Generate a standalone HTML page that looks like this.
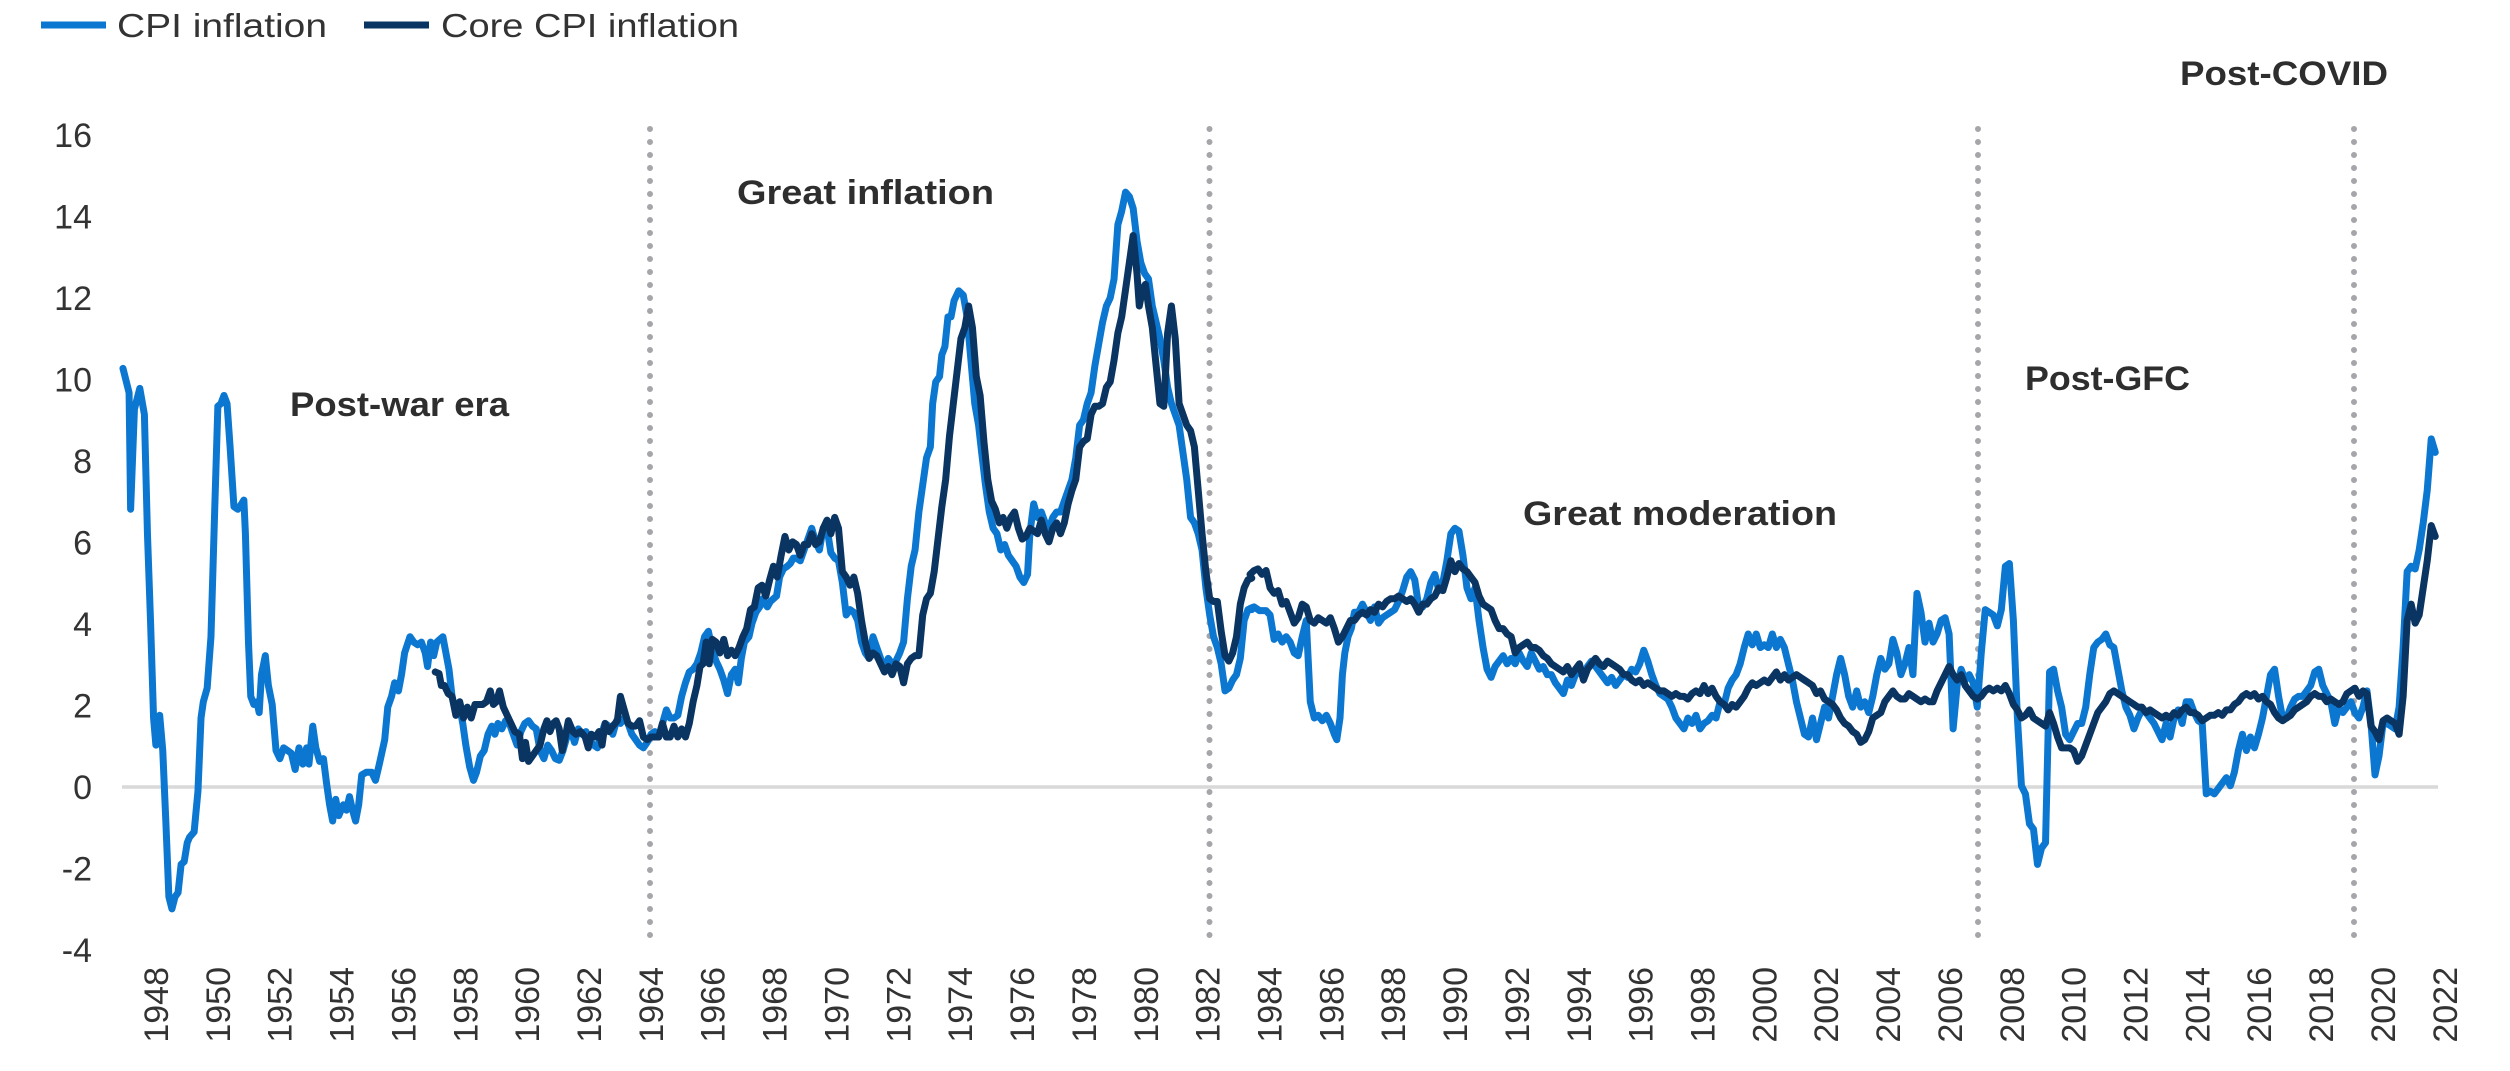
<!DOCTYPE html>
<html><head><meta charset="utf-8"><style>
html,body{margin:0;padding:0;background:#fff;}
svg{display:block;}
text{font-family:"Liberation Sans",sans-serif;fill:#333;}
.ax{font-size:34px;}
.ann{font-size:34px;font-weight:bold;fill:#2e2e2e;}
</style></head><body>
<svg width="2510" height="1071" viewBox="0 0 2510 1071" xmlns="http://www.w3.org/2000/svg">
<rect width="2510" height="1071" fill="#fff"/>
<!-- legend -->
<line x1="41" y1="25" x2="106" y2="25" stroke="#0c77d0" stroke-width="7"/>
<text x="117" y="37" font-size="33" textLength="210" lengthAdjust="spacingAndGlyphs">CPI inflation</text>
<line x1="364" y1="25" x2="429" y2="25" stroke="#0a3461" stroke-width="7"/>
<text x="441" y="37" font-size="33" textLength="298" lengthAdjust="spacingAndGlyphs">Core CPI inflation</text>

<!-- y labels -->
<g class="ax" text-anchor="end">
<text x="92" y="147">16</text>
<text x="92" y="228.5">14</text>
<text x="92" y="310">12</text>
<text x="92" y="391.5">10</text>
<text x="92" y="473">8</text>
<text x="92" y="554.5">6</text>
<text x="92" y="636">4</text>
<text x="92" y="717.5">2</text>
<text x="92" y="799">0</text>
<text x="92" y="880.5">-2</text>
<text x="92" y="962">-4</text>
</g>

<!-- zero line -->
<line x1="122" y1="787" x2="2438" y2="787" stroke="#d9d9d9" stroke-width="3.5"/>

<!-- dotted period lines -->
<g stroke="#a6a6aa" stroke-width="6" stroke-linecap="round" stroke-dasharray="0 13">
<line x1="650" y1="129" x2="650" y2="948"/>
<line x1="1209.5" y1="129" x2="1209.5" y2="948"/>
<line x1="1978" y1="129" x2="1978" y2="948"/>
<line x1="2354" y1="129" x2="2354" y2="948"/>
</g>

<!-- annotations -->
<text class="ann" x="290" y="416" textLength="219" lengthAdjust="spacingAndGlyphs">Post-war era</text>
<text class="ann" x="737" y="204" textLength="257" lengthAdjust="spacingAndGlyphs">Great inflation</text>
<text class="ann" x="1523" y="525" textLength="314" lengthAdjust="spacingAndGlyphs">Great moderation</text>
<text class="ann" x="2025" y="390" textLength="165" lengthAdjust="spacingAndGlyphs">Post-GFC</text>
<text class="ann" x="2180" y="85" textLength="208" lengthAdjust="spacingAndGlyphs">Post-COVID</text>

<!-- series left half -->
<g class="ser" transform="translate(100,100) scale(0.76531,0.54212)" fill="none" stroke-linejoin="round" stroke-linecap="round">
<polyline vector-effect="non-scaling-stroke" stroke="#0c77d0" stroke-width="7" points="30,495 38,540 40,755 45,570 52,532 58,580 62,800 66,960 70,1140 73,1190 78,1135 82,1200 86,1330 90,1470 94,1492 98,1470 102,1462 106,1410 110,1405 114,1370 117,1360 123,1350 128,1275 132,1140 135,1110 140,1085 145,990 150,750 154,565 158,560 162,545 166,560 170,640 175,750 180,755 185,745 188,738 190,800 194,1000 197,1100 201,1115 205,1110 208,1130 211,1060 216,1025 220,1080 225,1115 230,1200 235,1215 240,1195 245,1200 250,1205 255,1235 260,1195 265,1225 270,1195 273,1225 278,1155 282,1195 287,1220 292,1215 296,1260 300,1300 304,1330 308,1290 312,1320 318,1300 322,1310 326,1285 330,1310 334,1330 338,1300 342,1245 348,1240 355,1240 360,1255 365,1225 372,1180 376,1120 381,1100 385,1075 390,1090 394,1060 398,1020 405,990 410,1000 415,1005 420,1000 425,1020 428,1045 432,1000 436,1025 440,1000 444,995 448,990 452,1020 456,1050 460,1100 465,1130 470,1120 474,1150 478,1190 483,1230 488,1255 492,1240 497,1210 502,1200 507,1170 512,1155 516,1170 520,1150 525,1160 530,1145 535,1150 540,1170 545,1190 550,1165 555,1150 560,1145 565,1155 570,1160 575,1200 580,1215 585,1190 590,1200 595,1215 600,1218 605,1200 610,1175 615,1160 620,1185 625,1160 630,1170 635,1165 640,1180 645,1190 650,1195 655,1170 660,1150 665,1155 670,1170 675,1145 680,1150 685,1140 690,1150 695,1170 700,1180 705,1190 710,1195 715,1185 720,1170 725,1165 730,1175 735,1150 740,1125 745,1140 750,1140 755,1135 760,1100 765,1075 770,1055 775,1050 780,1040 785,1020 790,990 795,980 800,1015 805,1035 810,1050 815,1070 820,1095 825,1060 830,1050 834,1075 838,1030 842,1000 848,990 852,965 857,945 862,935 866,920 872,935 876,925 880,920 884,915 888,880 893,865 898,860 902,855 906,845 910,845 915,850 920,830 925,810 930,790 935,815 940,830 945,790 950,790 955,835 960,845 965,850 970,890 975,950 980,940 985,945 990,960 995,1000 1000,1020 1005,1030 1010,990 1015,1010 1020,1030 1025,1050 1030,1030 1035,1040 1040,1035 1045,1020 1050,1000 1055,920 1060,860 1065,830 1070,760 1075,710 1080,660 1085,640 1088,560 1092,520 1097,510 1100,470 1104,455 1108,400 1112,400 1116,370 1122,352 1128,360 1133,400 1138,480 1143,560 1148,600 1152,650 1157,710 1162,760 1167,790 1172,800 1177,830 1182,820 1187,840 1192,850 1197,860 1202,880 1207,890 1212,875 1215,800 1220,745 1225,770 1230,760 1235,780 1240,790 1245,770 1250,760 1255,760 1260,740 1265,720 1270,700 1275,660 1280,600 1285,590 1290,560 1295,540 1300,490 1305,450 1310,410 1315,380 1320,365 1325,330 1330,230 1335,205 1340,170 1345,178 1350,200 1355,260 1360,300 1365,320 1370,330 1375,380 1380,410 1385,440 1390,480 1395,530 1400,560 1405,580 1410,600 1415,650 1420,700 1425,770 1430,780 1435,800 1440,830 1445,900 1450,950 1455,990 1460,1010 1465,1040 1470,1090 1475,1085 1480,1070 1485,1060 1490,1030 1495,960 1500,940 1505,940"/>
<polyline vector-effect="non-scaling-stroke" stroke="#0a3461" stroke-width="7" points="438,1055 443,1058 446,1080 450,1080 455,1095 460,1100 465,1135 470,1110 475,1140 480,1120 485,1140 490,1115 495,1115 500,1115 505,1110 510,1090 514,1115 518,1110 522,1090 527,1120 532,1135 537,1150 542,1165 548,1170 552,1215 556,1185 560,1220 565,1210 570,1200 575,1190 580,1160 584,1145 588,1165 592,1150 596,1145 600,1160 604,1200 608,1175 612,1145 618,1165 622,1170 628,1165 634,1175 638,1195 642,1170 648,1175 652,1165 656,1190 660,1150 665,1165 670,1155 676,1145 680,1100 685,1125 690,1150 695,1155 700,1155 705,1145 710,1175 715,1180 720,1175 725,1175 730,1175 735,1150 740,1175 745,1175 750,1155 755,1175 760,1160 765,1175 770,1150 775,1110 780,1080 784,1045 788,1040 792,1000 796,1040 800,995 805,1000 810,1020 815,995 820,1025 825,1015 830,1025 835,1010 840,990 845,975 850,940 855,935 860,900 865,895 870,915 875,885 880,860 885,880 890,840 895,805 900,830 905,815 910,820 915,840 920,820 925,820 930,800 935,820 940,815 945,790 950,775 955,800 960,770 965,790 970,870 975,880 980,895 985,880 990,910 995,960 1000,1000 1005,1030 1010,1020 1015,1025 1020,1040 1025,1055 1030,1045 1035,1060 1040,1040 1045,1045 1050,1075 1055,1040 1060,1030 1065,1025 1070,1025 1075,950 1080,920 1085,910 1090,870 1095,810 1100,750 1105,700 1110,620 1115,560 1120,500 1125,440 1130,420 1135,380 1140,420 1145,510 1150,545 1155,630 1160,700 1165,740 1170,755 1175,780 1180,770 1185,790 1190,770 1195,760 1200,790 1205,810 1210,805 1215,790 1220,795 1225,800 1230,775 1235,800 1240,815 1245,790 1250,780 1255,800 1260,780 1265,745 1270,720 1275,700 1280,640 1285,630 1290,625 1295,580 1300,565 1305,565 1310,560 1315,530 1320,520 1325,480 1330,430 1335,400 1340,350 1345,300 1350,250 1355,320 1358,380 1362,350 1366,340 1370,380 1375,420 1380,490 1385,560 1390,565 1395,430 1400,380 1405,440 1410,560 1415,580 1420,600 1425,610 1430,640 1435,720 1440,800 1445,870 1450,920 1455,925 1460,925 1465,980 1470,1025 1475,1035 1480,1020 1485,990 1490,930 1495,900 1500,885 1505,882"/>
</g>

<!-- series right half -->
<g class="ser" transform="translate(1250,100) scale(0.80357,0.54212)" fill="none" stroke-linejoin="round" stroke-linecap="round">
<polyline vector-effect="non-scaling-stroke" stroke="#0c77d0" stroke-width="7" points="0,938 5,935 12,942 20,942 25,950 30,995 35,985 40,1000 45,990 50,1000 55,1020 60,1025 65,990 70,960 73,1050 75,1110 80,1140 85,1135 90,1145 95,1135 100,1150 105,1170 108,1180 112,1140 115,1060 118,1020 122,990 126,975 130,945 135,945 140,930 145,945 150,960 155,935 160,965 165,955 170,950 175,945 180,940 185,925 190,905 195,880 200,870 205,885 210,935 215,935 220,920 225,890 230,875 235,905 240,890 245,850 250,800 255,790 260,795 265,840 270,900 275,920 280,900 285,960 290,1010 295,1050 300,1065 305,1045 310,1035 315,1025 320,1040 325,1030 330,1040 335,1020 340,1035 345,1045 350,1020 355,1035 360,1050 365,1045 370,1060 375,1060 380,1075 385,1085 390,1095 395,1070 400,1080 405,1060 410,1055 415,1065 420,1045 425,1035 430,1045 435,1055 440,1065 445,1075 450,1065 455,1080 460,1070 465,1060 470,1065 475,1050 480,1055 485,1040 490,1015 495,1035 500,1060 505,1080 510,1095 515,1100 520,1105 525,1120 530,1140 535,1150 540,1160 545,1140 550,1150 555,1135 560,1160 565,1150 570,1145 575,1135 580,1140 585,1110 590,1115 595,1085 600,1070 605,1060 610,1040 615,1010 620,985 625,1005 630,985 635,1010 640,1005 645,1010 650,985 655,1010 660,995 665,1010 670,1040 675,1070 680,1110 685,1140 690,1170 695,1175 700,1140 705,1180 710,1150 715,1120 720,1140 725,1100 730,1060 735,1030 740,1060 745,1100 750,1120 755,1090 760,1120 765,1110 770,1130 775,1100 780,1060 785,1030 790,1050 795,1040 800,995 805,1020 810,1060 815,1040 820,1010 825,1060 830,910 835,945 840,1000 845,965 850,1000 855,985 860,960 865,955 870,985 875,1160 880,1080 885,1050 890,1070 895,1060 900,1075 905,1120 910,1020 915,940 920,945 925,950 930,970 935,940 940,860 945,855 950,960 955,1140 960,1265 965,1280 970,1335 975,1345 980,1410 985,1380 990,1370 995,1055 1000,1050 1005,1090 1010,1120 1015,1170 1020,1180 1025,1165 1030,1150 1035,1150 1040,1120 1045,1060 1050,1010 1055,1000 1060,995 1065,985 1070,1005 1075,1010 1080,1050 1085,1090 1090,1120 1095,1135 1100,1160 1105,1140 1110,1125 1115,1130 1120,1140 1125,1150 1130,1165 1135,1180 1140,1150 1145,1175 1150,1140 1155,1125 1160,1150 1165,1110 1170,1110 1175,1130 1180,1145 1185,1150 1190,1280 1195,1275 1200,1280 1205,1270 1210,1260 1215,1250 1220,1265 1225,1240 1230,1200 1235,1170 1240,1200 1245,1175 1250,1195 1255,1170 1260,1140 1265,1100 1270,1060 1275,1050 1280,1100 1285,1140 1290,1140 1295,1120 1300,1105 1305,1100 1310,1100 1315,1090 1320,1080 1325,1055 1330,1050 1335,1080 1340,1095 1345,1110 1350,1150 1355,1120 1360,1130 1365,1120 1370,1110 1375,1130 1380,1140 1385,1120 1390,1090 1395,1150 1400,1245 1405,1210 1410,1150 1415,1150 1420,1155 1425,1160 1430,1120 1435,1010 1440,870 1445,860 1450,865 1455,830 1460,780 1465,720 1470,625 1475,650"/>
<polyline vector-effect="non-scaling-stroke" stroke="#0a3461" stroke-width="7" points="0,875 5,868 10,865 15,875 20,868 25,900 30,910 35,905 40,930 45,925 50,945 55,965 60,955 65,930 70,935 75,960 80,965 85,955 90,960 95,965 100,955 105,975 110,1000 115,990 120,975 125,960 130,960 135,950 140,945 145,950 150,940 155,945 160,930 165,935 170,925 175,920 180,920 185,915 190,920 195,925 200,920 205,930 210,945 215,930 220,930 225,920 230,915 235,900 240,905 245,880 250,850 255,870 260,855 265,865 270,870 275,880 280,890 285,915 290,930 295,935 300,940 305,960 310,975 315,975 320,985 325,990 330,1020 335,1010 340,1005 345,1000 350,1010 355,1010 360,1015 365,1025 370,1030 375,1040 380,1045 385,1050 390,1055 395,1045 400,1060 405,1050 410,1040 415,1070 420,1050 425,1040 430,1030 435,1040 440,1045 445,1035 450,1040 455,1045 460,1050 465,1060 470,1060 475,1070 480,1075 485,1070 490,1080 495,1075 500,1080 505,1085 510,1090 515,1090 520,1095 525,1100 530,1095 535,1100 540,1100 545,1105 550,1095 555,1090 560,1095 565,1080 570,1095 575,1085 580,1100 585,1110 590,1115 595,1125 600,1115 605,1120 610,1110 615,1100 620,1085 625,1075 630,1080 635,1075 640,1070 645,1075 650,1065 655,1055 660,1070 665,1060 670,1070 675,1065 680,1060 685,1065 690,1070 695,1075 700,1080 705,1095 710,1090 715,1105 720,1110 725,1115 730,1125 735,1140 740,1150 745,1155 750,1165 755,1170 760,1185 765,1180 770,1165 775,1140 780,1135 785,1130 790,1110 795,1100 800,1090 805,1100 810,1105 815,1105 820,1095 825,1100 830,1105 835,1110 840,1105 845,1110 850,1110 855,1090 860,1075 865,1060 870,1045 875,1060 880,1070 885,1060 890,1080 895,1090 900,1100 905,1105 910,1100 915,1090 920,1085 925,1090 930,1085 935,1090 940,1080 945,1095 950,1115 955,1125 960,1140 965,1135 970,1125 975,1140 980,1145 985,1150 990,1155 995,1130 1000,1150 1005,1175 1010,1195 1015,1195 1020,1195 1025,1200 1030,1220 1035,1210 1040,1190 1045,1170 1050,1150 1055,1130 1060,1120 1065,1110 1070,1095 1075,1090 1080,1095 1085,1100 1090,1105 1095,1110 1100,1115 1105,1120 1110,1120 1115,1130 1120,1125 1125,1130 1130,1135 1135,1140 1140,1135 1145,1140 1150,1130 1155,1135 1160,1125 1165,1120 1170,1130 1175,1130 1180,1135 1185,1145 1190,1140 1195,1135 1200,1135 1205,1130 1210,1135 1215,1125 1220,1125 1225,1115 1230,1110 1235,1100 1240,1095 1245,1100 1250,1095 1255,1105 1260,1100 1265,1110 1270,1115 1275,1130 1280,1140 1285,1145 1290,1140 1295,1135 1300,1125 1305,1120 1310,1115 1315,1110 1320,1100 1325,1095 1330,1100 1335,1100 1340,1110 1345,1105 1350,1110 1355,1115 1360,1110 1365,1095 1370,1090 1375,1085 1380,1100 1385,1090 1390,1095 1395,1155 1400,1165 1405,1180 1410,1145 1415,1140 1420,1145 1425,1150 1430,1170 1435,1100 1440,960 1445,930 1450,965 1455,950 1460,900 1465,850 1470,785 1475,805"/>
</g>

<!-- x labels -->
<g class="ax" text-anchor="end">
<text transform="translate(168,967) rotate(-90)">1948</text>
<text transform="translate(229.9,967) rotate(-90)">1950</text>
<text transform="translate(291.7,967) rotate(-90)">1952</text>
<text transform="translate(353.6,967) rotate(-90)">1954</text>
<text transform="translate(415.4,967) rotate(-90)">1956</text>
<text transform="translate(477.3,967) rotate(-90)">1958</text>
<text transform="translate(539.2,967) rotate(-90)">1960</text>
<text transform="translate(601,967) rotate(-90)">1962</text>
<text transform="translate(662.9,967) rotate(-90)">1964</text>
<text transform="translate(724.7,967) rotate(-90)">1966</text>
<text transform="translate(786.6,967) rotate(-90)">1968</text>
<text transform="translate(848.5,967) rotate(-90)">1970</text>
<text transform="translate(910.3,967) rotate(-90)">1972</text>
<text transform="translate(972.2,967) rotate(-90)">1974</text>
<text transform="translate(1034,967) rotate(-90)">1976</text>
<text transform="translate(1095.9,967) rotate(-90)">1978</text>
<text transform="translate(1157.8,967) rotate(-90)">1980</text>
<text transform="translate(1219.6,967) rotate(-90)">1982</text>
<text transform="translate(1281.5,967) rotate(-90)">1984</text>
<text transform="translate(1343.3,967) rotate(-90)">1986</text>
<text transform="translate(1405.2,967) rotate(-90)">1988</text>
<text transform="translate(1467.1,967) rotate(-90)">1990</text>
<text transform="translate(1528.9,967) rotate(-90)">1992</text>
<text transform="translate(1590.8,967) rotate(-90)">1994</text>
<text transform="translate(1652.6,967) rotate(-90)">1996</text>
<text transform="translate(1714.5,967) rotate(-90)">1998</text>
<text transform="translate(1776.4,967) rotate(-90)">2000</text>
<text transform="translate(1838.2,967) rotate(-90)">2002</text>
<text transform="translate(1900.1,967) rotate(-90)">2004</text>
<text transform="translate(1961.9,967) rotate(-90)">2006</text>
<text transform="translate(2023.8,967) rotate(-90)">2008</text>
<text transform="translate(2085.7,967) rotate(-90)">2010</text>
<text transform="translate(2147.5,967) rotate(-90)">2012</text>
<text transform="translate(2209.4,967) rotate(-90)">2014</text>
<text transform="translate(2271.2,967) rotate(-90)">2016</text>
<text transform="translate(2333.1,967) rotate(-90)">2018</text>
<text transform="translate(2395,967) rotate(-90)">2020</text>
<text transform="translate(2456.8,967) rotate(-90)">2022</text>
</g>
</svg>
<script>
(function(){
  try{
    var groups=document.querySelectorAll('g.ser');
    for(var gi=0;gi<groups.length;gi++){
      var g=groups[gi];
      var t=g.getAttribute('transform');
      var m=/translate\(([-\d.]+),([-\d.]+)\)\s*scale\(([-\d.]+),([-\d.]+)\)/.exec(t);
      if(!m) continue;
      var tx=+m[1],ty=+m[2],sx=+m[3],sy=+m[4];
      var pls=g.querySelectorAll('polyline');
      for(var i=0;i<pls.length;i++){
        var p=pls[i];
        var pts=p.getAttribute('points').trim().split(/\s+/);
        var out=[];
        for(var k=0;k<pts.length;k++){
          var xy=pts[k].split(',');
          out.push((tx+(+xy[0])*sx).toFixed(2)+','+(ty+(+xy[1])*sy).toFixed(2));
        }
        p.setAttribute('points',out.join(' '));
        p.removeAttribute('vector-effect');
      }
      g.removeAttribute('transform');
    }
  }catch(e){}
})();
</script>
</body></html>
